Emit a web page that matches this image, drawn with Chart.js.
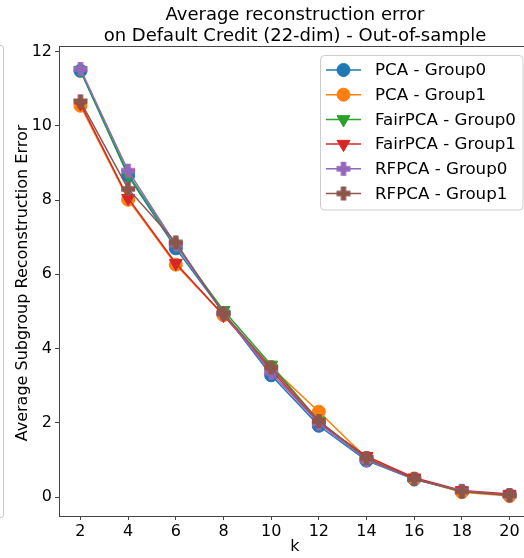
<!DOCTYPE html>
<html lang="en">
<head>
<meta charset="UTF-8">
<title>Average reconstruction error</title>
<script src="https://cdn.jsdelivr.net/npm/chart.js"></script>
<style>
  html, body { margin: 0; padding: 0; background: #fff; }
  .wrap { position: relative; width: 524px; height: 558px; overflow: hidden; }
  .box { position: absolute; left: 0; top: 0; width: 545px; height: 558px; }
  .bracket { position: absolute; left: -20px; top: 45px; width: 22px; height: 471px;
             border: 1px solid #c8c8c8; border-radius: 3px; }
</style>
</head>
<body>
<div class="wrap">
  <div class="bracket"></div>
  <div class="box"><canvas id="grafico" width="545" height="558"></canvas></div>
</div>

<script>
const kValues = [2, 4, 6, 8, 10, 12, 14, 16, 18, 20];
const pcaG0  = [11.48, 8.66, 6.70, 4.96, 3.28, 1.92, 0.98, 0.48, 0.15, 0.05];
const pcaG1  = [10.54, 8.01, 6.26, 4.90, 3.50, 2.30, 1.05, 0.50, 0.13, 0.03];
const fairG0 = [11.50, 8.70, 6.78, 5.03, 3.56, 2.05, 1.02, 0.49, 0.16, 0.05];
const fairG1 = [10.60, 8.05, 6.30, 4.90, 3.42, 2.00, 1.10, 0.52, 0.18, 0.08];
const rfG0   = [11.53, 8.79, 6.80, 4.95, 3.35, 1.98, 1.00, 0.48, 0.17, 0.05];
const rfG1   = [10.66, 8.30, 6.86, 4.95, 3.49, 2.05, 1.05, 0.49, 0.15, 0.05];
const seriesNames = ['PCA - Group0', 'PCA - Group1', 'FairPCA - Group0', 'FairPCA - Group1', 'RFPCA - Group0', 'RFPCA - Group1'];
const xTicks = [2, 4, 6, 8, 10, 12, 14, 16, 18, 20];
const yTicks = [0, 2, 4, 6, 8, 10, 12];

const colors = ['#1f77b4', '#ff7f0e', '#2ca02c', '#d62728', '#9467bd', '#8c564b'];
const FONT = "'DejaVu Sans', sans-serif";

// filled plus marker (matplotlib 'P')
function plusMarker(color) {
    const s = 16, c = document.createElement('canvas');
    c.width = s; c.height = s;
    const g = c.getContext('2d');
    const a = 1, b = s / 2 - 2.7, d = s / 2 + 2.7, e = s - 1;
    g.fillStyle = color;
    g.beginPath();
    g.moveTo(b, a); g.lineTo(d, a); g.lineTo(d, b); g.lineTo(e, b); g.lineTo(e, d);
    g.lineTo(d, d); g.lineTo(d, e); g.lineTo(b, e); g.lineTo(b, d); g.lineTo(a, d);
    g.lineTo(a, b); g.lineTo(b, b); g.closePath();
    g.fill();
    return c;
}

const allSeries = [pcaG0, pcaG1, fairG0, fairG1, rfG0, rfG1];
const markers = [
    { pointStyle: 'circle', radius: 6.5, rotation: 0 },
    { pointStyle: 'circle', radius: 6.5, rotation: 0 },
    { pointStyle: 'triangle', radius: 7.5, rotation: 180 },
    { pointStyle: 'triangle', radius: 7.5, rotation: 180 },
    { pointStyle: plusMarker(colors[4]), radius: 8, rotation: 0 },
    { pointStyle: plusMarker(colors[5]), radius: 8, rotation: 0 }
];

const datasets = allSeries.map((vals, i) => ({
    label: seriesNames[i],
    data: vals.map((v, j) => ({ x: kValues[j], y: v })),
    borderColor: colors[i],
    backgroundColor: colors[i],
    borderWidth: 1.5,
    pointStyle: markers[i].pointStyle,
    pointRadius: markers[i].radius,
    pointRotation: markers[i].rotation,
    pointBorderWidth: 1,
    pointBorderColor: colors[i],
    pointBackgroundColor: colors[i],
    order: 5 - i,
    tension: 0
}));

const extras = {
    id: 'extras',
    afterDraw(chart) {
        const ctx = chart.ctx, a = chart.chartArea;
        ctx.save();
        // frame
        ctx.strokeStyle = '#444';
        ctx.lineWidth = 1;
        ctx.strokeRect(Math.round(a.left) + 0.5, Math.round(a.top) + 0.5,
                       Math.round(a.right - a.left), Math.round(a.bottom - a.top));
        // title
        ctx.fillStyle = '#000';
        ctx.textAlign = 'center';
        ctx.textBaseline = 'alphabetic';
        ctx.font = '18px ' + FONT;
        const cx = (a.left + a.right) / 2;
        ctx.fillText('Average reconstruction error', cx, 20);
        ctx.fillText('on Default Credit (22-dim) - Out-of-sample', cx, 41);
        // axis titles
        ctx.font = '16px ' + FONT;
        ctx.textBaseline = 'middle';
        ctx.fillText('k', cx, 547);
        ctx.save();
        ctx.translate(23, (a.top + a.bottom) / 2 + 2);
        ctx.rotate(-Math.PI / 2);
        ctx.fillText('Average Subgroup Reconstruction Error', 0, 0);
        ctx.restore();
        // legend
        const lx = 320.5, ly = 55.5, lw = 202.5, lh = 154.5;
        ctx.beginPath();
        ctx.roundRect(lx, ly, lw, lh, 4);
        ctx.fillStyle = 'rgba(255,255,255,0.8)';
        ctx.fill();
        ctx.strokeStyle = '#cccccc';
        ctx.stroke();
        ctx.textAlign = 'left';
        ctx.font = '16.7px ' + FONT;
        seriesNames.forEach((name, i) => {
            const y = 70 + i * 24.7;
            ctx.strokeStyle = colors[i];
            ctx.fillStyle = colors[i];
            ctx.lineWidth = 1.5;
            ctx.beginPath();
            ctx.moveTo(326, y); ctx.lineTo(361, y);
            ctx.stroke();
            ctx.lineWidth = 1;
            Chart.helpers.drawPoint(ctx, {
                pointStyle: markers[i].pointStyle,
                radius: markers[i].radius,
                rotation: markers[i].rotation,
                borderWidth: 1
            }, 343.5, y);
            ctx.fillStyle = '#000';
            ctx.fillText(name, 375, y + 1);
        });
        ctx.restore();
    }
};

const ctx = document.getElementById('grafico').getContext('2d');
const chart = new Chart(ctx, {
    type: 'line',
    data: { datasets: datasets },
    options: {
        responsive: false,
        animation: false,
        events: [],
        layout: { padding: { top: 46, right: 14, left: 0, bottom: 0 } },
        plugins: { legend: { display: false }, title: { display: false }, tooltip: { enabled: false } },
        scales: {
            x: {
                type: 'linear',
                min: 1.1,
                max: 20.9,
                afterFit(scale) { scale.height = 42; },
                afterBuildTicks(scale) { scale.ticks = xTicks.map(v => ({ value: v })); },
                grid: { drawOnChartArea: false, drawTicks: true, tickLength: 4, color: '#444' },
                border: { display: false },
                ticks: { color: '#000', font: { family: FONT, size: 16 }, padding: 2, maxRotation: 0 }
            },
            y: {
                type: 'linear',
                min: -0.51,
                max: 12.15,
                afterFit(scale) { scale.width = 59; },
                afterBuildTicks(scale) { scale.ticks = yTicks.map(v => ({ value: v })); },
                grid: { drawOnChartArea: false, drawTicks: true, tickLength: 4, color: '#444' },
                border: { display: false },
                ticks: { color: '#000', font: { family: FONT, size: 16 }, padding: 3 }
            }
        }
    },
    plugins: [extras]
});
</script>
</body>
</html>
